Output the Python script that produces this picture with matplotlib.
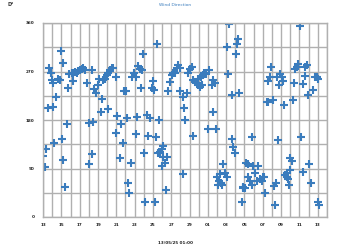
import matplotlib
matplotlib.use("Agg")
import matplotlib.pyplot as plt
import matplotlib.dates as mdates
import pandas as pd

# ------------------ DATA ------------------ #
START = "2025-04-13"

# days since 13 April 00:00
day_offsets = [
    0.58, 1.12, 0.69, 0.84, 0.95, 1.12, 1.42, 1.67, 1.86, 1.96, 2.15, 2.59, 2.76, 2.87,
    3.13, 3.31, 3.49, 3.31, 3.68, 3.85, 4.04, 4.22, 4.40, 4.58, 4.84, 5.32, 5.05, 5.49,
    5.60, 5.79, 5.97, 6.15, 6.30, 6.41, 6.52, 6.77, 6.95, 7.13, 7.31, 7.50, 7.67, 7.10,
    7.97, 8.11, 8.48, 8.87, 9.06, 9.20, 9.68, 9.93, 10.15, 10.29, 10.40, 10.59, 10.77,
    10.66, 10.95, 11.39, 11.68, 11.87, 12.04, 12.12, 12.41, 12.70, 13.68, 13.86, 14.05,
    14.22, 14.41, 14.59, 14.77,
    20.34, 21.32, 21.14, 20.05, 21.07, 14.95, 16.23, 16.05, 15.86, 14.95, 15.25, 15.69,
    15.39, 15.50, 16.41, 16.59, 16.78, 16.95, 17.14, 17.32, 16.95, 17.21, 17.43, 17.57,
    17.79, 18.15, 18.42, 18.59, 18.78, 18.52, 18.04, 18.88, 20.23, 20.60, 21.43, 24.86,
    24.59, 24.78, 25.51, 25.87, 26.06, 26.17, 25.79, 24.42, 24.59, 25.07, 26.31, 27.32,
    27.51, 27.69, 27.87, 27.40, 28.05, 28.60, 28.85, 28.60, 28.41, 28.96, 29.51, 29.69,
    29.88, 29.99,
    0.03, 0.33, 0.22, 1.20, 2.04, 2.22, 2.40, 5.05, 5.35, 7.97, 8.41, 8.70, 9.31, 9.42,
    9.57, 10.15, 11.13, 11.02, 11.49, 12.23, 12.33, 12.59, 12.77, 12.96, 13.13, 13.07,
    13.32, 13.50, 12.96, 13.43,
    15.31, 16.41, 19.62, 19.03, 19.32, 19.87, 20.05, 19.25, 19.40, 19.14, 19.51, 20.60,
    20.77, 20.96, 21.69, 21.86, 22.05, 21.80, 22.16, 22.41, 22.41, 22.60, 22.78, 23.14,
    23.33, 23.50, 22.96, 23.69, 23.87, 23.98, 24.12, 22.78, 24.23, 25.22, 25.43, 25.32,
    25.68, 26.42, 26.60, 26.78, 26.60, 26.89, 26.96, 27.15, 26.96, 28.13, 28.35, 29.07,
    29.22, 30.05, 30.16,
]

# wind direction, degrees
directions = [
    202, 205, 276, 267, 254, 248, 222, 256, 254, 308, 286, 173, 240, 265,
    267, 268, 270, 252, 268, 271, 272, 274, 276, 273, 249, 273, 174, 177,
    237, 230, 245, 257, 194, 219, 254, 257, 264, 267, 273, 276, 276, 200,
    259, 188, 173, 233, 233, 183, 260, 268, 259, 185, 280, 274, 273,
    239, 302, 189, 183, 239, 252, 236, 321, 180, 233, 251, 264,
    268, 267, 276, 282,
    358, 330, 321, 315, 303, 276, 279, 274, 268, 233, 223, 231,
    202, 180, 254, 251, 248, 245, 242, 245, 256, 259, 264, 267,
    265, 272, 245, 254, 249, 195, 163, 163, 265, 226, 231, 279,
    253, 259, 259, 265, 259, 253, 245, 214, 214, 218, 208, 217,
    274, 279, 284, 249, 354, 279, 282, 262, 247, 226, 236, 259,
    260, 257,
    113, 126, 93, 138, 145, 105, 56, 98, 117, 155, 109, 138, 64, 45,
    101, 154, 28, 118, 150, 27, 148, 118, 121, 126, 131, 112,
    101, 112, 95, 50,
    80, 150, 98, 75, 80, 81, 74, 66, 63, 59, 59, 144,
    129, 119, 28, 56, 53, 53, 101, 98, 75, 66, 59, 81,
    66, 95, 95, 70, 67, 75, 75, 149, 45, 58, 64, 22,
    142, 78, 74, 70, 81, 59, 109, 103, 87, 148, 84, 98,
    63, 28, 22,
]

x_tick_days = pd.date_range(START, periods=16, freq="2D")
y_major = [0, 90, 180, 270, 360]
y_minor = [45, 135, 225, 315]

# ------------------ PLOT ------------------ #
times = pd.Timestamp(START) + pd.to_timedelta(day_offsets, unit="D")

fig = plt.figure(figsize=(3.5, 2.5), dpi=100)
ax = fig.add_axes([0.123, 0.132, 0.811, 0.776])

ax.plot(times, directions, linestyle="none", marker="+", markersize=6,
        markeredgewidth=1.5, color="#3a7cbd")

ax.set_xlim(pd.Timestamp(START), pd.Timestamp(START) + pd.Timedelta(days=31))
ax.set_ylim(0, 360)

ax.set_xticks(x_tick_days)
ax.xaxis.set_minor_locator(mdates.DayLocator())
ax.xaxis.set_major_formatter(mdates.DateFormatter("%d"))
ax.set_yticks(y_major)
ax.set_yticks(y_minor, minor=True)

ax.grid(True, which="both", color="#b0b0b0", linewidth=1.0)
ax.set_axisbelow(True)
for s in ax.spines.values():
    s.set_color("#b0b0b0")
    s.set_linewidth(1.0)

ax.tick_params(which="both", length=0, labelsize=3.0, colors="#222222")
for lbl in ax.get_xticklabels() + ax.get_yticklabels():
    lbl.set_fontweight("bold")
ax.tick_params(axis="x", pad=4)
ax.tick_params(axis="y", pad=6)

fig.text(0.5, 0.99, "Wind Direction", ha="center", va="top", fontsize=3.2,
         color="#3a7cbd")
fig.text(0.03, 0.99, "D°", ha="center", va="top", fontsize=3.5, color="#333333",
         fontweight="bold")
fig.text(0.5, 0.03, "13/05/25 01:00", ha="center", va="center", fontsize=3.0,
         color="#222222", fontweight="bold")

fig.savefig("out.png", dpi=100)
